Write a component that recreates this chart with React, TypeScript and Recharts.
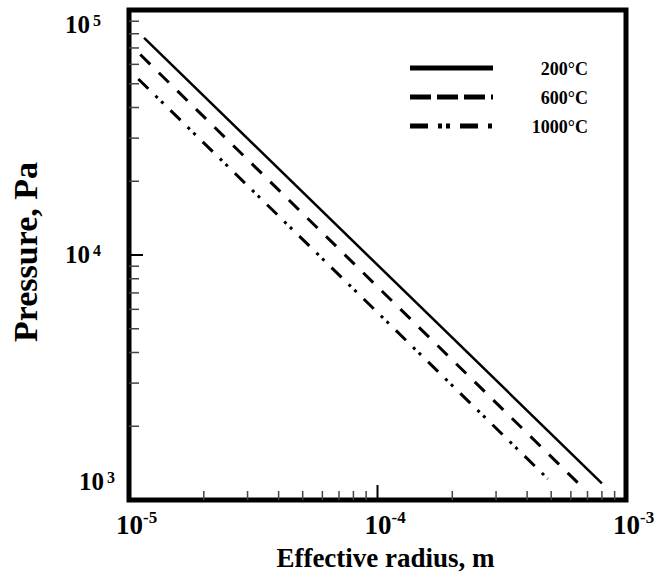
import React from 'react';
import { LineChart, Line, XAxis, YAxis, ReferenceArea, Legend, Label } from 'recharts';

// end points of each curve (radius in m, pressure in Pa)
const radius200 = [1.15e-5, 8.0e-4];
const pressure200 = [77000, 1170];
const radius600 = [1.11e-5, 6.6e-4];
const pressure600 = [65800, 1140];
const radius1000 = [1.09e-5, 4.85e-4];
const pressure1000 = [52300, 1220];

const seriesNames = ['200°C', '600°C', '1000°C'];

const xMajorTicks = [1e-5, 1e-4, 1e-3];
const xMinorTicks = [
    2e-5, 3e-5, 4e-5, 5e-5, 6e-5, 7e-5, 8e-5, 9e-5,
    2e-4, 3e-4, 4e-4, 5e-4, 6e-4, 7e-4, 8e-4, 9e-4,
];
const yMajorTicks = [1e3, 1e4, 1e5];
const yMinorTicks = [
    2e3, 3e3, 4e3, 5e3, 6e3, 7e3, 8e3, 9e3,
    2e4, 3e4, 4e4, 5e4, 6e4, 7e4, 8e4, 9e4,
];

const toPoints = (r: number[], p: number[]) => r.map((v, i) => ({ r: v, p: p[i] }));

const series = [
    { name: seriesNames[0], data: toPoints(radius200, pressure200), dash: undefined, width: 2.5 },
    { name: seriesNames[1], data: toPoints(radius600, pressure600), dash: '14 12', width: 3 },
    { name: seriesNames[2], data: toPoints(radius1000, pressure1000), dash: '14 10 3 5 3 10', width: 3 },
];

const legendDash = [undefined, '21 6', '18 10 4 4 4 10'];

const SERIF = '"Liberation Serif", "Times New Roman", serif';

const XTick = (props: any) => {
    const { x, y, payload } = props;
    const v = payload.value;
    const major = xMajorTicks.includes(v);
    return (
        <g>
            <line x1={x} x2={x} y1={y} y2={y - (major ? 15 : 9)} stroke={major ? '#000' : '#444'} strokeWidth={major ? 2 : 1.5} />
            {major && (
                <text x={x - 13} y={y + 34} fontFamily={SERIF} fontWeight="bold" fontSize={27} fill="#000">
                    10
                    <tspan dy={-11} fontSize={17}>{Math.round(Math.log10(v))}</tspan>
                </text>
            )}
        </g>
    );
};

const YTick = (props: any) => {
    const { x, y, payload } = props;
    const v = payload.value;
    const major = yMajorTicks.includes(v);
    // keep the end labels inside the frame like the original does
    const baseY = Math.min(Math.max(y + 8, 33), 490);
    const textX = y > 480 ? x - 14 : x - 28;
    return (
        <g>
            <line x1={x} x2={x + (major ? 14 : 10)} y1={y} y2={y} stroke={major ? '#000' : '#444'} strokeWidth={major ? 2 : 1.5} />
            {major && (
                <text x={textX} y={baseY} textAnchor="end" fontFamily={SERIF} fontWeight="bold" fontSize={25} fill="#000">
                    10
                    <tspan dx={3} dy={-7} fontSize={16}>{Math.round(Math.log10(v))}</tspan>
                </text>
            )}
        </g>
    );
};

const LegendBox = () => (
    <svg width={190} height={80}>
        {series.map((s, i) => (
            <g key={s.name}>
                <line x1={5} x2={88} y1={10 + i * 29} y2={10 + i * 29} stroke="#000" strokeWidth={5} strokeDasharray={legendDash[i]} />
                <text x={183} y={17 + i * 29} textAnchor="end" fontFamily={SERIF} fontWeight="bold" fontSize={18} fill="#000">
                    {s.name}
                </text>
            </g>
        ))}
    </svg>
);

export default function App() {
    return (
        <div style={{ position: 'absolute', left: 0, top: 0, width: 658, height: 573, background: '#fff' }}>
            <LineChart width={658} height={573} margin={{ top: 10, right: 32, left: 0, bottom: 0 }}>
                <XAxis
                    dataKey="r"
                    type="number"
                    scale="log"
                    domain={[1e-5, 1e-3]}
                    allowDataOverflow
                    ticks={[...xMajorTicks, ...xMinorTicks].sort((a, b) => a - b)}
                    interval={0}
                    tick={<XTick />}
                    tickSize={0}
                    tickMargin={0}
                    tickLine={false}
                    axisLine={false}
                    height={73}
                >
                    <Label
                        content={(props: any) => {
                            const vb = props.viewBox;
                            return (
                                <text x={vb.x + vb.width / 2 + 8} y={567} textAnchor="middle" fontFamily={SERIF} fontWeight="bold" fontSize={27} fill="#000">
                                    Effective radius, m
                                </text>
                            );
                        }}
                    />
                </XAxis>
                <YAxis
                    dataKey="p"
                    type="number"
                    scale="log"
                    domain={[1e3, 1e5]}
                    allowDataOverflow
                    ticks={[...yMajorTicks, ...yMinorTicks].sort((a, b) => a - b)}
                    interval={0}
                    tick={<YTick />}
                    tickSize={0}
                    tickMargin={0}
                    tickLine={false}
                    axisLine={false}
                    width={129}
                >
                    <Label
                        content={(props: any) => {
                            const vb = props.viewBox;
                            const cy = vb.y + vb.height / 2 - 3;
                            return (
                                <text x={37} y={cy} transform={`rotate(-90 37 ${cy})`} textAnchor="middle" fontFamily={SERIF} fontWeight="bold" fontSize={34} fill="#000">
                                    Pressure, Pa
                                </text>
                            );
                        }}
                    />
                </YAxis>
                {series.map((s) => (
                    <Line
                        key={s.name}
                        name={s.name}
                        data={s.data}
                        dataKey="p"
                        type="linear"
                        stroke="#000"
                        strokeWidth={s.width}
                        strokeDasharray={s.dash}
                        dot={false}
                        activeDot={false}
                        isAnimationActive={false}
                    />
                ))}
                <ReferenceArea x1={1e-5} x2={1e-3} y1={1e3} y2={1e5} fill="none" stroke="#000" strokeWidth={5} ifOverflow="visible" />
                <Legend
                    layout="horizontal"
                    verticalAlign="middle"
                    align="center"
                    wrapperStyle={{ left: 405, top: 58, width: 190 }}
                    content={<LegendBox />}
                />
            </LineChart>
        </div>
    );
}
